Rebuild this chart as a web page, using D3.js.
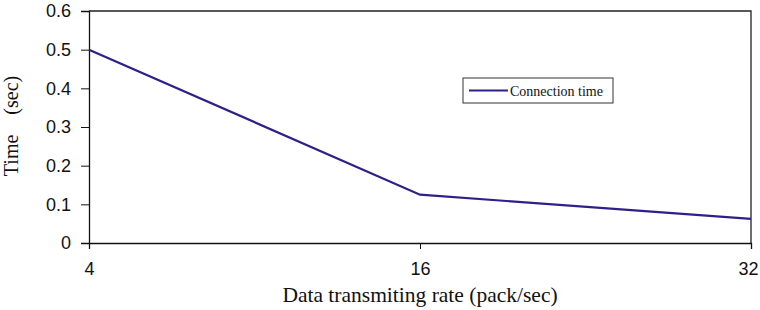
<!DOCTYPE html>
<html>
<head>
<meta charset="utf-8">
<script src="https://cdn.jsdelivr.net/npm/d3@7"></script>
<style>
  body { margin: 0; background: #fff; }
  svg { display: block; }
</style>
</head>
<body>
<svg width="760" height="310"></svg>
<script>
// data
const rates = ['4', '16', '32']
const connTime = [0.5, 0.125, 0.0625]
const yTicks = [0, 0.1, 0.2, 0.3, 0.4, 0.5, 0.6]

const svg = d3.select('svg')
const plotL = 89, plotR = 751, plotT = 11, plotB = 243

const x = d3.scalePoint().domain(rates).range([plotL, plotR]).padding(0)
const y = d3.scaleLinear().domain([0, 0.6]).range([plotB, plotT])

// frame (top + right)
svg.append('path')
    .attr('d', `M${plotL},${plotT}H${plotR}V${plotB}`)
    .attr('fill', 'none').attr('stroke', '#222').attr('stroke-width', 1.3)

// y axis
const yAxis = svg.append('g').attr('transform', `translate(${plotL},0)`)
    .call(d3.axisLeft(y).tickValues(yTicks).tickSize(8).tickPadding(10)
        .tickFormat(d => d === 0 ? '0' : d3.format('.1f')(d)))
yAxis.select('.domain').attr('stroke', '#111').attr('stroke-width', 1.3)
yAxis.selectAll('.tick line').attr('stroke', '#111').attr('stroke-width', 1)
yAxis.selectAll('text').attr('font-family', 'Liberation Sans, Arial, sans-serif')
    .attr('font-size', 18).attr('fill', '#111')

// x axis
const xAxis = svg.append('g').attr('transform', `translate(0,${plotB})`)
    .call(d3.axisBottom(x).tickSize(6).tickPadding(13))
xAxis.select('.domain').attr('stroke', '#111').attr('stroke-width', 1.3)
xAxis.selectAll('.tick line').attr('stroke', '#111').attr('stroke-width', 1)
xAxis.selectAll('text').attr('font-family', 'Liberation Sans, Arial, sans-serif')
    .attr('font-size', 18).attr('fill', '#111')
// last label sits against the right edge, nudge it in
xAxis.selectAll('.tick text').filter(d => d === rates[rates.length - 1])
    .attr('text-anchor', 'end').attr('x', 7)

// series line
const line = d3.line().x((d, i) => x(rates[i])).y(d => y(d))
svg.append('path').datum(connTime)
    .attr('d', line)
    .attr('fill', 'none').attr('stroke', '#2e2088').attr('stroke-width', 2.2)

// axis titles
svg.append('text')
    .attr('x', (plotL + plotR) / 2).attr('y', 302)
    .attr('text-anchor', 'middle')
    .attr('font-family', 'Liberation Serif, Times New Roman, serif')
    .attr('font-size', 21.5).attr('fill', '#111')
    .text('Data transmiting rate (pack/sec)')

svg.append('text')
    .attr('transform', `translate(18,126) rotate(-90)`)
    .attr('text-anchor', 'middle')
    .attr('font-family', 'Liberation Serif, Times New Roman, serif')
    .attr('font-size', 20).attr('fill', '#111')
    .style('white-space', 'pre').style('word-spacing', '5px')
    .text('Time  (sec)')

// legend
const lg = svg.append('g').attr('transform', 'translate(463,78)')
lg.append('rect').attr('width', 150).attr('height', 25)
    .attr('fill', '#fff').attr('stroke', '#333').attr('stroke-width', 1)
lg.append('line').attr('x1', 6).attr('x2', 45).attr('y1', 12.5).attr('y2', 12.5)
    .attr('stroke', '#2e2088').attr('stroke-width', 2.2)
lg.append('text').attr('x', 47).attr('y', 17.5)
    .attr('font-family', 'Liberation Serif, Times New Roman, serif')
    .attr('font-size', 14).attr('fill', '#111')
    .text('Connection time')
</script>
</body>
</html>
